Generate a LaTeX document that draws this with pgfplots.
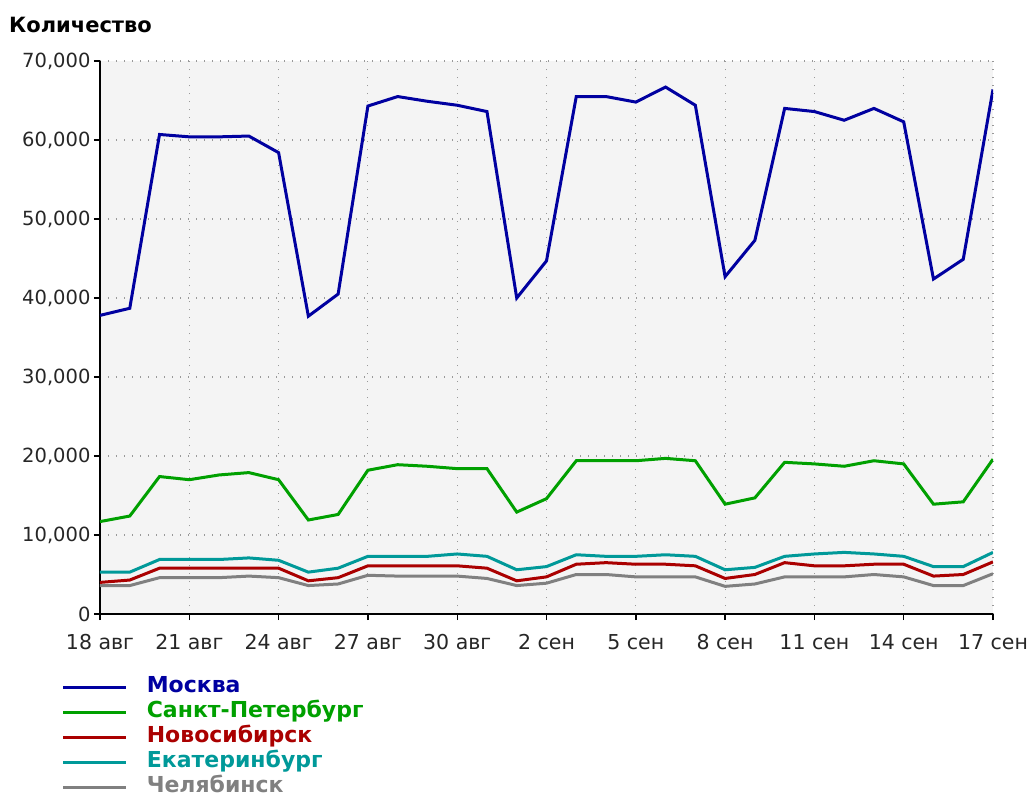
\documentclass[border=0pt]{standalone}
\usepackage{pgfplots}
\pgfplotsset{compat=1.18}
\usepackage{pgfplotstable}
\usepackage{fontspec}
\setmainfont{DejaVu Sans}
\definecolor{cmsk}{RGB}{0,0,160}
\definecolor{cspb}{RGB}{0,160,0}
\definecolor{cnsk}{RGB}{170,0,0}
\definecolor{cekb}{RGB}{0,153,153}
\definecolor{cchl}{RGB}{128,128,128}
\definecolor{bgc}{RGB}{244,244,244}
\pgfplotstableread{
day msk spb nsk ekb chl
0 37800 11700 4000 5300 3600
1 38700 12400 4300 5300 3600
2 60700 17400 5800 6900 4600
3 60400 17000 5800 6900 4600
4 60400 17600 5800 6900 4600
5 60500 17900 5800 7100 4800
6 58400 17000 5800 6800 4600
7 37700 11900 4200 5300 3600
8 40500 12600 4600 5800 3800
9 64300 18200 6100 7300 4900
10 65500 18900 6100 7300 4800
11 64900 18700 6100 7300 4800
12 64400 18400 6100 7600 4800
13 63600 18400 5800 7300 4500
14 40000 12900 4200 5600 3600
15 44700 14600 4700 6000 3900
16 65500 19400 6300 7500 5000
17 65500 19400 6500 7300 5000
18 64800 19400 6300 7300 4700
19 66700 19700 6300 7500 4700
20 64400 19400 6100 7300 4700
21 42700 13900 4500 5600 3500
22 47300 14700 5000 5900 3800
23 64000 19200 6500 7300 4700
24 63600 19000 6100 7600 4700
25 62500 18700 6100 7800 4700
26 64000 19400 6300 7600 5000
27 62300 19000 6300 7300 4700
28 42400 13900 4800 6000 3600
29 44900 14200 5000 6000 3600
30 66400 19600 6600 7800 5100
}\datatable
\begin{document}
\begin{tikzpicture}
\useasboundingbox (0pt,0pt) rectangle (1030pt,-799pt);
\node[anchor=west, font=\fontsize{21}{24}\selectfont\bfseries, inner sep=0pt] at (9pt,-25pt) {Количество};
\begin{axis}[
  at={(100pt,-614pt)}, anchor=south west,
  width=893pt, height=553pt, scale only axis,
  xmin=0, xmax=30, ymin=0, ymax=70000,
  axis x line*=bottom, axis y line*=left,
  axis line style={line width=2.2pt, black, -},
  tick style={line width=1.4pt, black},
  tick align=outside, major tick length=6pt,
  xtick={0,3,...,30},
  xticklabels={18 авг,21 авг,24 авг,27 авг,30 авг,2 сен,5 сен,8 сен,11 сен,14 сен,17 сен},
  ytick={0,10000,...,70000},
  scaled y ticks=false,
  yticklabel style={font=\fontsize{19.5}{22}\selectfont, text=black!85, /pgf/number format/.cd, fixed, 1000 sep={,}},
  xticklabel style={font=\fontsize{20.5}{22}\selectfont, text=black!85, yshift=-11pt},
  /pgf/number format/assume math mode=true,
  grid=major,
  major grid style={gray!80, line width=1.1pt, dash pattern=on 1.1pt off 6.9pt},
  axis background/.style={fill=bgc},
  legend image code/.code={\draw[#1] (0pt,0pt) -- (63pt,0pt);},
  legend cell align=left,
  legend style={at={(-0.043,-0.114)}, anchor=north west, draw=none, fill=none,
    font=\fontsize{22}{25}\selectfont\bfseries, row sep=4pt, inner sep=0pt,
    nodes={inner sep=0pt, text height=15.5pt, text depth=5.5pt},
    /tikz/every odd column/.append style={column sep=19pt}},
]
\addplot[cmsk, line width=3pt] table[x=day, y=msk] {\datatable};
\addplot[cspb, line width=3pt] table[x=day, y=spb] {\datatable};
\addplot[cnsk, line width=3pt] table[x=day, y=nsk] {\datatable};
\addplot[cekb, line width=3pt] table[x=day, y=ekb] {\datatable};
\addplot[cchl, line width=3pt] table[x=day, y=chl] {\datatable};
\legend{\textcolor{cmsk}{Москва},\textcolor{cspb}{Санкт-Петербург},\textcolor{cnsk}{Новосибирск},\textcolor{cekb}{Екатеринбург},\textcolor{cchl}{Челябинск}}
\end{axis}
\end{tikzpicture}
\end{document}
